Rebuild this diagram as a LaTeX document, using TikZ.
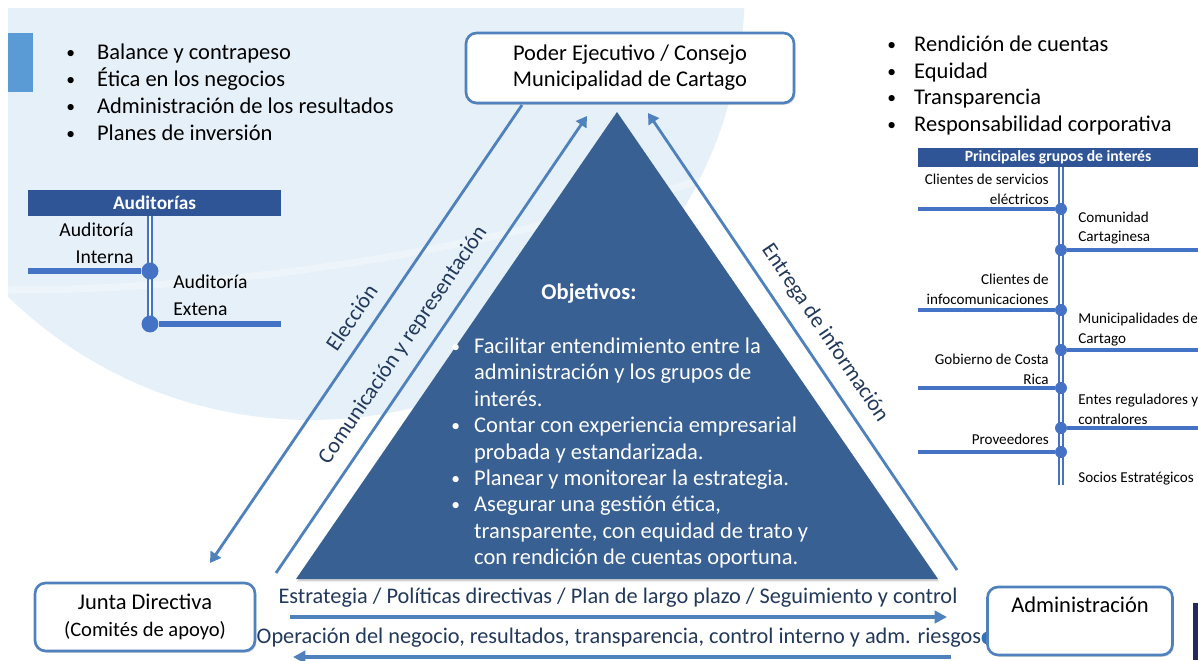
\documentclass[tikz,border=0pt]{standalone}
\usepackage{fontspec}
\setmainfont{Carlito}
\usepackage{xcolor}
\usepackage{tikz}
\usetikzlibrary{arrows.meta,shadows,positioning}
\definecolor{GovLine}{HTML}{4F81BD}
\definecolor{GovTri}{HTML}{386092}
\definecolor{GovHead}{HTML}{2F5597}
\definecolor{GovTree}{HTML}{4472C4}
\definecolor{GovPale}{HTML}{E6F0F8}
\definecolor{GovTab}{HTML}{5B9BD5}
\definecolor{GovText}{HTML}{22395C}
\definecolor{GovNavy}{HTML}{1F2A5E}
\definecolor{GovDot}{HTML}{2E75B6}
\newcommand{\govbullet}[2]{\makebox[#1][l]{\raisebox{0.6pt}{\fontsize{10}{10}\selectfont\textbullet}}#2}

\begin{document}
\begin{tikzpicture}[x=0.02cm,y=-0.02cm,
  govbox/.style={draw=GovLine, line width=1.5pt, rounded corners=6pt, fill=white,
    align=center, inner sep=2pt, font=\fontsize{12.8}{14.7}\selectfont,
    drop shadow={shadow xshift=0.8pt, shadow yshift=-1pt, opacity=0.3}},
  flowarrow/.style={GovLine, line width=1.6pt, -{Triangle[length=6pt,width=7pt]}},
  basearrow/.style={GovLine, line width=2pt, -{Triangle[length=7pt,width=7pt]}},
  flowlabel/.style={sloped, above=3.6pt, text=GovText, font=\fontsize{12.6}{14}\selectfont},
  flowtext/.style={text=GovText, inner sep=0pt, font=\fontsize{12.7}{14}\selectfont},
  listtext/.style={anchor=west, align=left, inner sep=0pt, font=\fontsize{12.8}{15.3}\selectfont},
  headbar/.style={fill=GovHead, text=white, inner sep=0pt, font=\bfseries\fontsize{11}{12}\selectfont},
  spine/.style={GovTree, line width=1.1pt, double=white, double distance=0.9pt},
  branch/.style={GovTree, line width=3.2pt},
  twig/.style={GovTree, line width=2.2pt},
  knot/.style={circle, fill=GovTree, inner sep=0pt, minimum size=9.6pt},
  bud/.style={circle, fill=GovTree, inner sep=0pt, minimum size=6.8pt},
  audtext/.style={inner sep=0pt, font=\fontsize{11.2}{15.3}\selectfont},
  grouptext/.style={inner sep=0pt, font=\fontsize{8.6}{11.3}\selectfont}]
\path[use as bounding box] (0,0) rectangle (1198,660);
% background
\begin{scope}
\clip (8,8) rectangle (1198,660);
\fill[GovPale] (311,-14) circle[radius=8.68cm];
\clip (311,-14) circle[radius=8.68cm];
\draw[white, opacity=0.35, line width=4pt] (8,290) .. controls (200,290) and (450,262) .. (700,180);
\end{scope}
\fill[GovTab] (8,33) rectangle (33,92);
\fill[GovNavy] (1193,603) rectangle (1198,660);

% lists
\node[listtext] (leftlist) at (66,92.5) {\govbullet{17.5pt}{Balance y contrapeso}\\
  \govbullet{17.5pt}{Ética en los negocios}\\
  \govbullet{17.5pt}{Administración de los resultados}\\
  \govbullet{17.5pt}{Planes de inversión}};
\node[listtext] (rightlist) at (887,85.5) {\govbullet{15.3pt}{Rendición de cuentas}\\
  \govbullet{15.3pt}{Equidad}\\
  \govbullet{15.3pt}{Transparencia}\\
  \govbullet{15.3pt}{Responsabilidad corporativa}};

% auditorias
\node[headbar, minimum width=5.06cm, minimum height=0.52cm] (audhead) at (154.5,203) {Auditorías};
\draw[spine] (150,216) -- (150,324);
\node[knot] (audA) at (150,271) {};
\node[knot] (audB) at (150,324) {};
\draw[branch] (28,271) -- (audA);
\draw[branch] (audB) -- (281,324);
\node[audtext, anchor=east, align=right] (audint) at (134,243.5) {Auditoría\\Interna};
\node[audtext, anchor=west, align=left] (audext) at (173,295) {Auditoría\\Extena};

% grupos de interes
\node[headbar, font=\bfseries\fontsize{8.9}{10}\selectfont, minimum width=5.6cm, minimum height=0.38cm] (grouphead) at (1058,157.5) {Principales grupos de interés};
\draw[spine] (1061,167) -- (1061,485);
\node[bud] (gA) at (1061,209) {};
\node[bud] (gB) at (1061,250) {};
\node[bud] (gC) at (1061,310) {};
\node[bud] (gD) at (1061,350) {};
\node[bud] (gE) at (1061,388) {};
\node[bud] (gF) at (1061,428) {};
\node[bud] (gG) at (1061,452) {};
\draw[twig] (918,209) -- (gA);
\draw[twig] (gB) -- (1198,250);
\draw[twig] (918,310) -- (gC);
\draw[twig] (gD) -- (1198,350);
\draw[twig] (918,388) -- (gE);
\draw[twig] (gF) -- (1198,428);
\draw[twig] (918,452) -- (gG);
\node[grouptext, anchor=east, align=right] (gElec) at (1049,189) {Clientes de servicios\\eléctricos};
\node[grouptext, anchor=west, align=left] (gCom) at (1078,228) {Comunidad\\Cartaginesa};
\node[grouptext, anchor=east, align=right] (gInfo) at (1049,289) {Clientes de\\infocomunicaciones};
\node[grouptext, anchor=west, align=left] (gMun) at (1078,329.5) {Municipalidades de\\Cartago};
\node[grouptext, anchor=east, align=right] (gGob) at (1049,369.5) {Gobierno de Costa\\Rica};
\node[grouptext, anchor=west, align=left] (gEnt) at (1078,409) {Entes reguladores y\\contralores};
\node[grouptext, anchor=east] (gProv) at (1049,439) {Proveedores};
\node[grouptext, anchor=west] (gSoc) at (1078,479) {Socios Estratégicos};

% triangle
\fill[GovTri, drop shadow={shadow xshift=0.6pt, shadow yshift=-1.4pt, opacity=0.35}] (617,112) -- (938,579) -- (296,579) -- cycle;
\node[text=white, font=\bfseries\fontsize{12.8}{14}\selectfont] (objhead) at (589,293) {Objetivos:};
\node[listtext, text=white, font=\fontsize{12.8}{15}\selectfont] (objlist) at (451,453) {\govbullet{13pt}{Facilitar entendimiento entre la}\\
  \hspace*{13pt}administración y los grupos de\\
  \hspace*{13pt}interés.\\
  \govbullet{13pt}{Contar con experiencia empresarial}\\
  \hspace*{13pt}probada y estandarizada.\\
  \govbullet{13pt}{Planear y monitorear la estrategia.}\\
  \govbullet{13pt}{Asegurar una gestión ética,}\\
  \hspace*{13pt}transparente, con equidad de trato y\\
  \hspace*{13pt}con rendición de cuentas oportuna.};

% boxes
\node[govbox, minimum width=6.56cm, minimum height=1.4cm] (poder) at (630,68) {Poder Ejecutivo / Consejo\\Municipalidad de Cartago};
\node[govbox, minimum width=4.4cm, minimum height=1.36cm] (junta) at (145,617) {Junta Directiva\\[1pt]{\fontsize{11.7}{13}\selectfont (Comités de apoyo)}};
\fill[GovDot] (988,638) circle[radius=0.13cm];
\node[govbox, minimum width=3.7cm, minimum height=1.36cm] (admin) at (1080,621) {Administración\\\strut};

% connectors
\coordinate (elecA) at (522,105);
\coordinate (elecB) at (210,563);
\coordinate (comA) at (276,573);
\coordinate (comB) at (587,116);
\coordinate (entA) at (957,570);
\coordinate (entB) at (648,113);
\coordinate (stratL) at (290,617);
\coordinate (stratR) at (947,617);
\coordinate (operR) at (951,657);
\coordinate (operL) at (293,657);
\draw[flowarrow] (elecA) -- node[flowlabel, pos=0.49] (elecLbl) {Elección} (elecB);
\draw[flowarrow] (comA) -- node[flowlabel, pos=0.47] (comLbl) {Comunicación y representación} (comB);
\draw[flowarrow] (entA) -- node[flowlabel, pos=0.49] (entLbl) {Entrega de información} (entB);
\node[flowtext] (strat) at (618,598) {Estrategia / Políticas directivas / Plan de largo plazo / Seguimiento y control};
\draw[basearrow] (stratL) -- (stratR);
\node[flowtext] (oper) at (619,638) {Operación del negocio, resultados, transparencia, control interno y adm. riesgos};
\draw[basearrow] (operR) -- (operL);
\end{tikzpicture}
\end{document}
